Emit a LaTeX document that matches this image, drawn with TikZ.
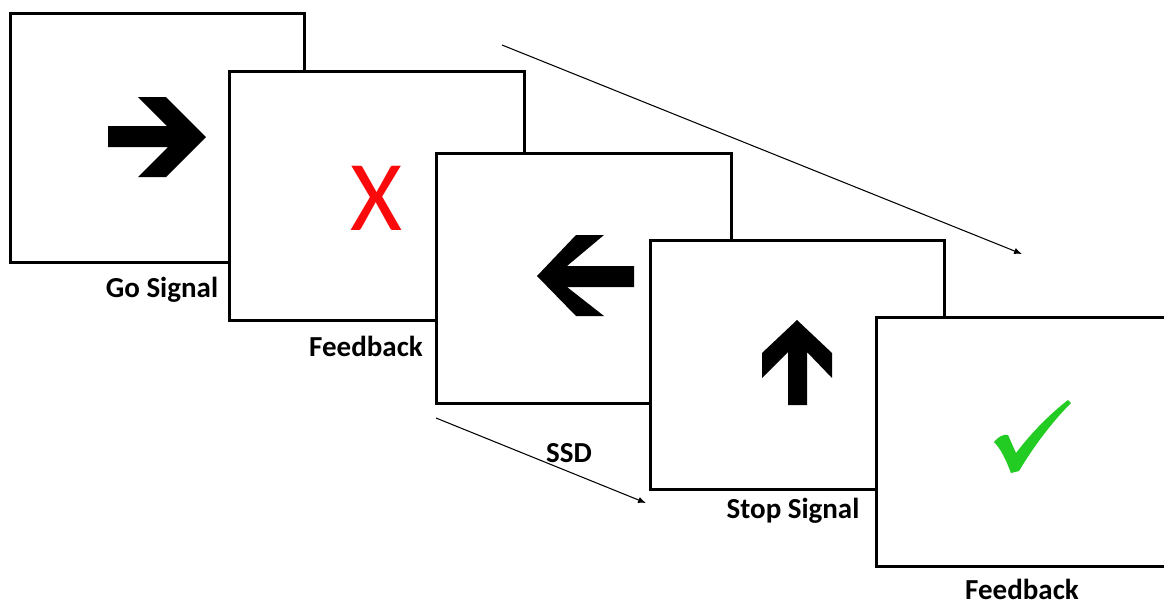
\documentclass[tikz,border=0pt]{standalone}
\usepackage{fontspec}
\setmainfont{Carlito}
\usetikzlibrary{arrows.meta}
\definecolor{xred}{RGB}{250,10,10}
\definecolor{ckgreen}{RGB}{34,204,34}
\tikzset{
  screen/.style={draw=black, fill=white, line width=1.7pt, inner sep=0pt, minimum width=5.9cm, minimum height=5cm},
  lbl/.style={font=\bfseries\fontsize{16.5}{18}\selectfont, anchor=base, inner sep=0pt},
  timeline/.style={line width=0.6pt, -{Latex[length=4.5pt,width=3.6pt]}},
  glyph/.style={fill=black, draw=none}
}
\begin{document}
\begin{tikzpicture}[x=0.02cm,y=-0.02cm]
\useasboundingbox (0,0) rectangle (1164,606);
% screens
\node[screen] (s1) at (157.5,138) {};
\node[screen] (s2) at (377,196) {};
\node[screen] (s3) at (584,278.5) {};
\node[screen] (s4) at (797.5,365) {};
\node[screen, minimum width=6.4cm] (s5) at (1036,442) {};
% glyphs
\fill[glyph] (108,126) -- (167,126) -- (138,97) -- (166,97) -- (206,137) -- (166,177) -- (138,177) -- (168,147) -- (108,147) -- cycle;
\node[text=xred, font=\fontsize{57}{60}\selectfont, anchor=base, inner sep=0pt] (x) at (376.5,230) {X};
\fill[glyph] (634,266) -- (567,266) -- (604,235) -- (576,235) -- (537,276) -- (576,316) -- (604,316) -- (567,287) -- (634,287) -- cycle;
\fill[glyph] (788,405) -- (788,352) -- (762,378) -- (762,353) -- (797,320) -- (832,353) -- (832,378) -- (807,352) -- (807,405) -- cycle;
\fill[ckgreen] (994,442) .. controls (998,437) and (1003,434) .. (1008,435)
  -- (1016,453) .. controls (1032,432) and (1050,414) .. (1068,400)
  -- (1071,403) .. controls (1052,422) and (1034,446) .. (1019,471)
  -- (1011,473) .. controls (1006,460) and (1001,449) .. (994,442) -- cycle;
% labels
\node[lbl] (l1) at (162,297) {Go Signal};
\node[lbl] (l2) at (366,356) {Feedback};
\node[lbl] (l3) at (569,462) {SSD};
\node[lbl] (l4) at (793,518) {Stop Signal};
\node[lbl] (l5) at (1022,599) {Feedback};
% time arrows
\coordinate (a1) at (502,45);
\coordinate (a2) at (1022,254);
\coordinate (b1) at (436,418);
\coordinate (b2) at (646,503);
\draw[timeline] (a1) -- (a2);
\draw[timeline] (b1) -- (b2);
\end{tikzpicture}
\end{document}
